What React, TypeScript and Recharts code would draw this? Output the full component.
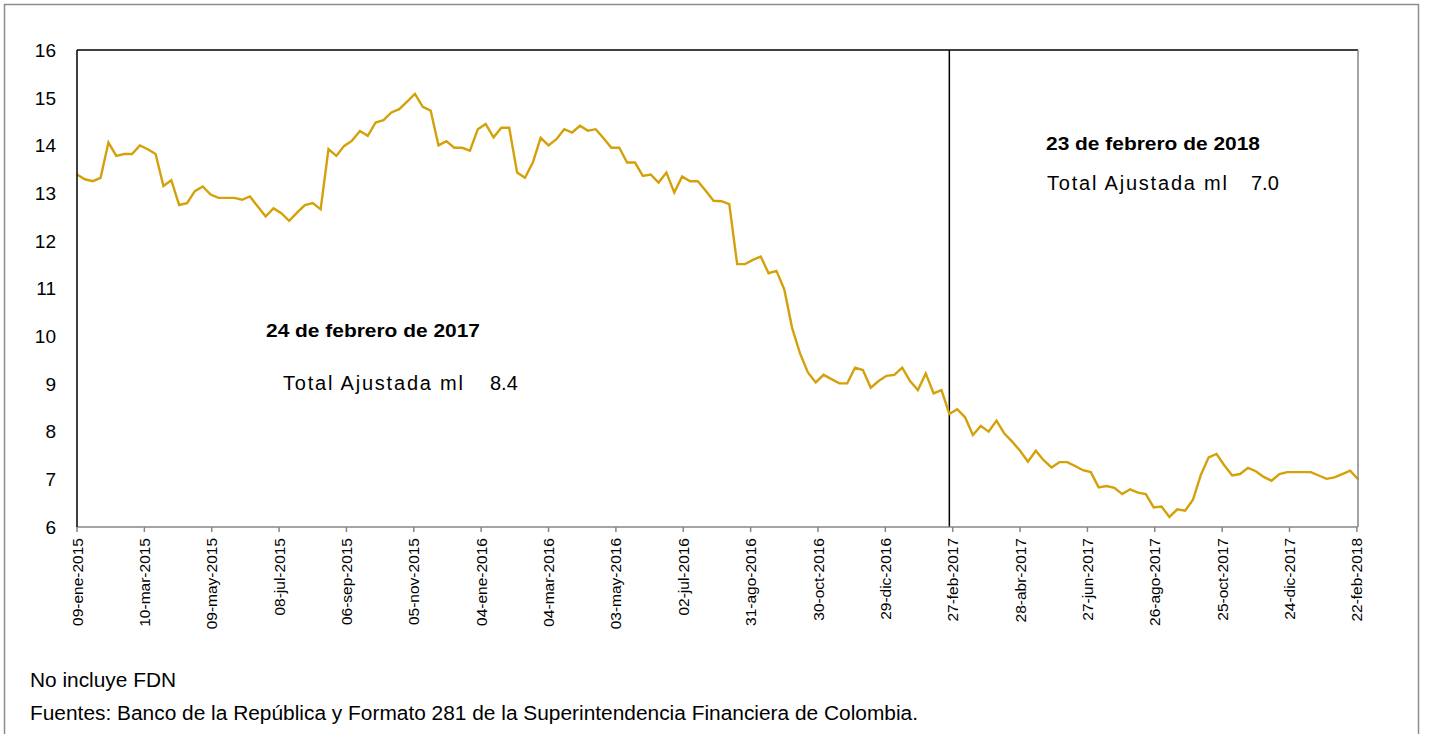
import React from 'react';
import { LineChart, Line, XAxis, YAxis, ReferenceLine } from 'recharts';

// Weekly series (Fridays), from 09-ene-2015 to 23-feb-2018
const startLabel = '09-ene-2015';
const values = [
  13.39, 13.29, 13.25, 13.32, 14.06, 13.78, 13.82, 13.82, 14.0, 13.92,
  13.82, 13.15, 13.27, 12.75, 12.79, 13.04, 13.14, 12.97, 12.9, 12.9,
  12.9, 12.86, 12.93, 12.72, 12.51, 12.68, 12.58, 12.42, 12.59, 12.75,
  12.79, 12.66, 13.92, 13.78, 13.99, 14.1, 14.3, 14.2, 14.48, 14.53,
  14.69, 14.76, 14.92, 15.08, 14.81, 14.73, 14.0, 14.09, 13.95, 13.95,
  13.89, 14.34, 14.45, 14.17, 14.37, 14.37, 13.43, 13.32, 13.64, 14.16,
  14.0, 14.13, 14.34, 14.27, 14.41, 14.31, 14.34, 14.15, 13.95, 13.95,
  13.64, 13.64, 13.36, 13.39, 13.22, 13.43, 13.01, 13.35, 13.25, 13.25,
  13.05, 12.84, 12.83, 12.77, 11.51, 11.51, 11.6, 11.67, 11.32, 11.37,
  10.98, 10.17, 9.64, 9.24, 9.03, 9.19, 9.1, 9.01, 9.01, 9.34,
  9.29, 8.92, 9.06, 9.17, 9.19, 9.34, 9.06, 8.87, 9.22, 8.8,
  8.87, 8.37, 8.47, 8.3, 7.93, 8.12, 8.0, 8.23, 7.96, 7.79,
  7.6, 7.37, 7.6, 7.4, 7.25, 7.36, 7.36, 7.28, 7.19, 7.15,
  6.83, 6.86, 6.82, 6.69, 6.79, 6.72, 6.69, 6.41, 6.43, 6.21,
  6.37, 6.34, 6.57, 7.09, 7.46, 7.53, 7.29, 7.08, 7.11, 7.24,
  7.17, 7.05, 6.97, 7.11, 7.15, 7.15, 7.15, 7.15, 7.08, 7.01,
  7.04, 7.11, 7.18, 7.0,
];
const DAYS_PER_STEP = 7;

// X axis: day offsets from 09-ene-2015 and their labels
const tickDays = [0, 60, 120, 180, 240, 300, 360, 420, 480, 540, 600, 660, 720, 780, 840, 900, 960, 1020, 1080, 1140];
const tickLabels = [
  startLabel, '10-mar-2015', '09-may-2015', '08-jul-2015', '06-sep-2015', '05-nov-2015',
  '04-ene-2016', '04-mar-2016', '03-may-2016', '02-jul-2016', '31-ago-2016', '30-oct-2016',
  '29-dic-2016', '27-feb-2017', '28-abr-2017', '27-jun-2017', '26-ago-2017', '25-oct-2017',
  '24-dic-2017', '22-feb-2018',
];
const axisMaxDay = 1141; // 23-feb-2018
const markerDay = 777; // 24-feb-2017
const yTicks = [6, 7, 8, 9, 10, 11, 12, 13, 14, 15, 16];

const data = values.map((v, i) => ({ day: i * DAYS_PER_STEP, value: v }));

const FONT = '"Liberation Sans", Arial, sans-serif';
const LINE_COLOR = '#D4A10A';
const AXIS_GRAY = '#868686';

const XTick = (props: any) => {
  const { x, y, payload } = props;
  const idx = tickDays.indexOf(payload.value);
  return (
    <text
      transform={`translate(${x},${y}) rotate(-90)`}
      textAnchor="end"
      dy="0.36em"
      fontSize={15.5}
      fontFamily={FONT}
      fill="#000"
    >
      {idx >= 0 ? tickLabels[idx] : ''}
    </text>
  );
};

const LeftTick = (props: any) => {
  const { x, y, payload } = props;
  return (
    <text x={x} y={y} dy="0.36em" textAnchor="end" fontSize={19} fontFamily={FONT} fill="#000">
      {payload.value}
    </text>
  );
};

const RIGHT_MARGIN = 24;
const RightTick = (props: any) => {
  const { x, y, payload } = props;
  const ax = x - RIGHT_MARGIN;
  return (
    <g>
      <line x1={ax - 5} x2={ax + 5} y1={y} y2={y} stroke={AXIS_GRAY} strokeWidth={1.5} />
      <text x={x} y={y} dy="0.36em" textAnchor="start" fontSize={19} fontFamily={FONT} fill="#000">
        {payload.value}
      </text>
    </g>
  );
};

export default function App() {
  return (
    <div style={{ position: 'absolute', left: 0, top: 0, width: 1430, height: 734, background: '#fff', overflow: 'hidden' }}>
      <LineChart
        width={1430}
        height={734}
        data={data}
        margin={{ top: 50, right: 0, bottom: 107, left: 0 }}
      >
        <XAxis
          dataKey="day"
          type="number"
          domain={[0, axisMaxDay]}
          ticks={tickDays}
          interval={0}
          height={100}
          axisLine={{ stroke: AXIS_GRAY, strokeWidth: 1.5 }}
          tickLine={{ stroke: AXIS_GRAY, strokeWidth: 1.5 }}
          tickSize={5}
          tickMargin={6}
          tick={(p: any) => <XTick {...p} />}
        />
        <YAxis
          yAxisId="left"
          orientation="left"
          domain={[6, 16]}
          ticks={yTicks}
          interval={0}
          width={77}
          axisLine={{ stroke: '#000', strokeWidth: 1.5 }}
          tickLine={false}
          tickSize={0}
          tickMargin={21}
          tick={(p: any) => <LeftTick {...p} />}
        />
        <YAxis
          yAxisId="right"
          orientation="right"
          domain={[6, 16]}
          ticks={yTicks}
          interval={0}
          width={72}
          axisLine={{ stroke: AXIS_GRAY, strokeWidth: 1.5 }}
          tickLine={false}
          tickSize={0}
          tickMargin={RIGHT_MARGIN}
          tick={(p: any) => <RightTick {...p} />}
        />
        <ReferenceLine yAxisId="left" y={16} stroke="#000" strokeWidth={1.5} />
        <ReferenceLine yAxisId="left" x={markerDay} stroke="#000" strokeWidth={1.5} />
        <Line
          yAxisId="left"
          type="linear"
          dataKey="value"
          stroke={LINE_COLOR}
          strokeWidth={2.4}
          dot={false}
          isAnimationActive={false}
        />
      </LineChart>
      <svg
        width={1430}
        height={734}
        style={{ position: 'absolute', left: 0, top: 0, pointerEvents: 'none' }}
        fontFamily={FONT}
      >
        <rect x={4.5} y={4.5} width={1414} height={760} fill="none" stroke="#8c8c8c" strokeWidth={1.5} />
        <text x={266} y={337} fontSize={19} fontWeight="bold" textLength={214} lengthAdjust="spacingAndGlyphs">24 de febrero de 2017</text>
        <text x={283} y={390} fontSize={20} textLength={180} lengthAdjust="spacing">Total Ajustada ml</text>
        <text x={490} y={390} fontSize={20}>8.4</text>
        <text x={1046} y={150} fontSize={19} fontWeight="bold" textLength={214} lengthAdjust="spacingAndGlyphs">23 de febrero de 2018</text>
        <text x={1047} y={190} fontSize={20} textLength={180} lengthAdjust="spacing">Total Ajustada ml</text>
        <text x={1251} y={190} fontSize={20}>7.0</text>
        <text x={30} y={687} fontSize={20} textLength={146} lengthAdjust="spacingAndGlyphs">No incluye FDN</text>
        <text x={30} y={720} fontSize={20} textLength={888} lengthAdjust="spacingAndGlyphs">Fuentes: Banco de la República y Formato 281 de la Superintendencia Financiera de Colombia.</text>
      </svg>
    </div>
  );
}
